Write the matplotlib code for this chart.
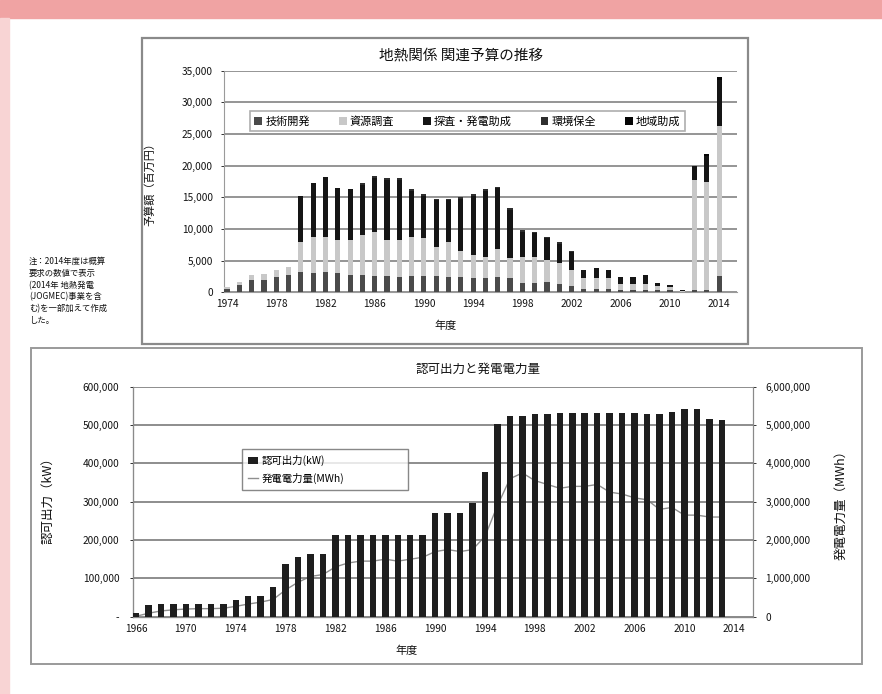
import matplotlib
matplotlib.use("Agg")
import matplotlib.pyplot as plt
import numpy as np
from matplotlib.patches import Rectangle

plt.rcParams['font.family'] = ['Noto Sans CJK JP', 'DejaVu Sans']

# ---- 上段：地熱関係予算 (百万円) ----
budget_years = list(range(1974, 2015))
tech_dev = [600, 1200, 1900, 2000, 2400, 2700,
            3200, 3000, 3200, 3000, 2800, 2800, 2600, 2500, 2400, 2500,
            2600, 2500, 2400, 2400, 2300, 2300, 2400, 2200, 1500, 1400,
            1600, 1300, 1000, 600, 600, 500, 400, 400, 400, 300,
            300, 100, 300, 400, 2500]
resource_survey = [300, 500, 800, 900, 1100, 1300,
                   4800, 5800, 5600, 5300, 5500, 6200, 7000, 5800, 5900, 6300,
                   5900, 4700, 5600, 4100, 3600, 3300, 4500, 3200, 4100, 4200,
                   3500, 3300, 2500, 1600, 1600, 1700, 900, 900, 900, 700,
                   600, 150, 17400, 17100, 23700]
explore_subsidy = [0, 0, 0, 0, 0, 0,
                   7200, 8500, 9400, 8100, 8000, 8000, 8400, 9400, 9400, 7200,
                   6700, 7300, 6500, 8300, 9300, 10400, 9500, 7600, 3900, 3700,
                   3400, 3100, 2800, 1400, 1700, 1300, 1100, 1100, 1400, 500,
                   300, 50, 2200, 4100, 7300]
env_protect = [0, 0, 0, 0, 0, 0,
               0, 0, 0, 0, 0, 300, 300, 300, 300, 300,
               300, 300, 300, 300, 300, 300, 300, 300, 300, 300,
               300, 300, 300, 0, 0, 0, 0, 0, 0, 0,
               0, 0, 0, 0, 0]
regional_aid = [0] * 38 + [0, 300, 500]
budget_labels = ['技術開発', '資源調査', '探査・発電助成', '環境保全', '地域助成']

# ---- 下段：認可出力と発電電力量 ----
cap_years = list(range(1966, 2014))
capacity_kw = [9500, 31000, 32000, 32000, 32000, 32000, 32000, 32000, 43000, 54000,
               54000, 77000, 137000, 155000, 163000, 163000, 213000, 213000, 213000, 213000,
               213000, 213000, 213000, 213000, 271000, 271000, 271000, 296000, 378000, 504000,
               523000, 523000, 530000, 530000, 532000, 532000, 532000, 532000, 532000, 532000,
               532000, 530000, 530000, 535000, 541000, 541000, 515000, 513000]
energy_mwh = [10000, 90000, 150000, 180000, 200000, 210000, 210000, 220000, 270000, 330000,
              380000, 450000, 700000, 900000, 1050000, 1100000, 1300000, 1400000, 1450000, 1450000,
              1500000, 1450000, 1500000, 1550000, 1700000, 1750000, 1700000, 1750000, 2100000, 2900000,
              3600000, 3750000, 3550000, 3450000, 3350000, 3400000, 3400000, 3450000, 3250000, 3200000,
              3100000, 3050000, 2800000, 2850000, 2650000, 2650000, 2600000, 2600000]

W, H = 882, 694
fig = plt.figure(figsize=(W / 100, H / 100), dpi=100)


def rect(l, t, r, b):
    return [l / W, 1 - b / H, (r - l) / W, (b - t) / H]


# page decoration
fig.patches.append(Rectangle((0, 1 - 18 / H), 1, 18 / H, transform=fig.transFigure,
                             color='#f0a3a3', zorder=-5))
fig.patches.append(Rectangle((0, 0), 9 / W, 1 - 18 / H, transform=fig.transFigure,
                             color='#f8d4d4', zorder=-5))
fig.patches.append(Rectangle((142 / W, 1 - 344 / H), 606 / W, 306 / H, transform=fig.transFigure,
                             fill=False, ec='#8a8a8a', lw=1.6))
fig.patches.append(Rectangle((31 / W, 1 - 664 / H), 831 / W, 316 / H, transform=fig.transFigure,
                             fill=False, ec='#9a9a9a', lw=1.4))

txt = '#111111'
tick_fs = 7.3

# ---- top chart ----
ax1 = fig.add_axes(rect(224, 70.7, 737, 292.3))
x1 = np.arange(len(budget_years))
series = [tech_dev, resource_survey, explore_subsidy, env_protect, regional_aid]
colors = ['#4a4a4a', '#c8c8c8', '#151515', '#2e2e2e', '#050505']
bottom = np.zeros(len(x1))
for vals, c, lab in zip(series, colors, budget_labels):
    ax1.bar(x1, vals, 0.42, bottom=bottom, color=c, label=lab, zorder=3)
    bottom += np.array(vals)
ax1.set_xlim(-0.25, 41.45)
ax1.set_ylim(0, 35000)
ax1.set_yticks(np.arange(0, 35001, 5000))
ax1.set_yticklabels([f'{v:,}' for v in range(0, 35001, 5000)])
ax1.set_xticks(x1[::4])
ax1.set_xticklabels([str(y) for y in budget_years[::4]])
ax1.grid(axis='y', color='#8c8c8c', lw=1.3, zorder=0)
ax1.tick_params(labelsize=tick_fs, colors=txt, length=2, width=0.6, pad=6)
ax1.tick_params(axis='x', length=0, pad=5)
for s in ['top', 'right']:
    ax1.spines[s].set_visible(False)
ax1.spines['left'].set_color('#9a9a9a')
ax1.spines['bottom'].set_color('#9a9a9a')
ax1.set_xlabel('年度', fontsize=8, color=txt)
ax1.xaxis.set_label_coords((446 - 224) / 513, -(321 - 292.3) / 221.6)
ax1.set_ylabel('予算額（百万円）', fontsize=8, color=txt)
ax1.yaxis.set_label_coords(-(224 - 155) / 513, 0.5)
fig.text(461 / W, 1 - 56 / H, '地熱関係 関連予算の推移', fontsize=10.5, color=txt,
         ha='center', va='center')
leg1 = ax1.legend(loc='lower left', ncol=5, mode='expand', fontsize=8,
                  bbox_to_anchor=((250 - 224) / 513, (292.3 - 131) / 221.6, 435 / 513, 0.1),
                  frameon=True, fancybox=False, edgecolor='#9a9a9a', handlelength=0.7,
                  handleheight=0.7, handletextpad=0.3, borderpad=0.4, borderaxespad=0)
leg1.get_frame().set_linewidth(1.2)

fig.text(29 / W, 1 - 257 / H,
         '注：2014年度は概算\n要求の数値で表示\n(2014年 地熱発電\n(JOGMEC)事業を含\nむ)を一部加えて作成\nした。',
         fontsize=6, color=txt, va='top', ha='left', linespacing=1.4)

# ---- bottom chart ----
ax2 = fig.add_axes(rect(133.3, 386.7, 753, 616.7))
ax2.bar(cap_years, capacity_kw, 0.52, color='#1e1e1e', zorder=3, label='認可出力(kW)')
ax2.set_xlim(1965.78, 2015.5)
ax2.set_ylim(0, 600000)
ax2.set_yticks(np.arange(0, 600001, 100000))
ax2.set_yticklabels(['-'] + [f'{v:,}' for v in range(100000, 600001, 100000)])
ax2.set_xticks(range(1966, 2015, 4))
ax2.grid(axis='y', color='#7a7a7a', lw=1.2, zorder=0)
ax2.tick_params(labelsize=tick_fs, colors=txt, length=2, width=0.6, pad=8)
ax2.tick_params(axis='x', length=0, pad=5)
ax2.spines['top'].set_visible(False)
for s in ['left', 'right', 'bottom']:
    ax2.spines[s].set_color('#8a8a8a')
ax2.set_ylabel('認可出力（kW）', fontsize=9, color=txt)
ax2.yaxis.set_label_coords(-(133.3 - 54) / 619.7, 0.52)
ax2.set_xlabel('年度', fontsize=8, color=txt)
ax2.xaxis.set_label_coords((407 - 133.3) / 619.7, -(646 - 616.7) / 230)

ax3 = ax2.twinx()
ax3.plot(cap_years, energy_mwh, color='#8f8f8f', lw=1.0, zorder=4, label='発電電力量(MWh)')
ax3.set_ylim(0, 6000000)
ax3.set_yticks(np.arange(0, 6000001, 1000000))
ax3.set_yticklabels(['0'] + [f'{v:,}' for v in range(1000000, 6000001, 1000000)])
ax3.tick_params(labelsize=tick_fs, colors=txt, length=2, width=0.6, pad=7)
ax3.spines['top'].set_visible(False)
ax3.spines['right'].set_color('#8a8a8a')
ax3.set_ylabel('発電電力量（MWh）', fontsize=9, color=txt, rotation=90)
ax3.yaxis.set_label_coords(1 + (834 - 753) / 619.7, 0.5)
ax2.set_zorder(ax3.get_zorder() + 1)
ax2.patch.set_visible(False)

h2, l2 = ax2.get_legend_handles_labels()
h3, l3 = ax3.get_legend_handles_labels()
leg2 = ax2.legend(h2 + h3, l2 + l3, loc='lower left', mode='expand', fontsize=7.5,
                  bbox_to_anchor=((241.7 - 133.3) / 619.7, (616.7 - 490) / 230, 166 / 619.7, 0.2),
                  frameon=True, fancybox=False, edgecolor='#6a6a6a', handlelength=1.0,
                  handleheight=0.7, handletextpad=0.3, labelspacing=0.6, borderpad=0.6,
                  borderaxespad=0)
leg2.get_frame().set_linewidth(1.0)
fig.text(478 / W, 1 - 369 / H, '認可出力と発電電力量', fontsize=9, color=txt,
         ha='center', va='center')

fig.savefig('out.png', dpi=100, facecolor='white')
